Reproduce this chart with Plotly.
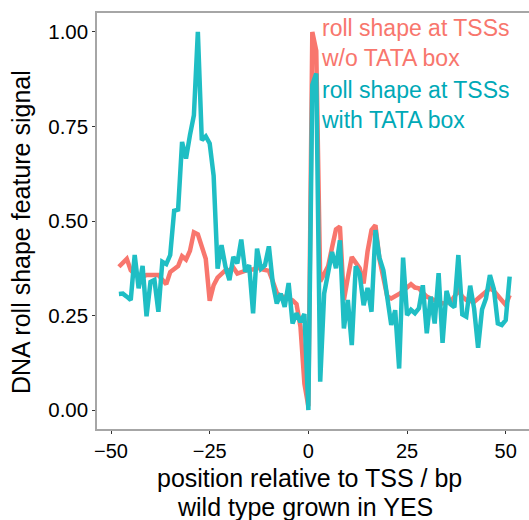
import plotly.graph_objects as go

positions = list(range(-48, 52))

roll_no_tata = [
    0.379, 0.39, 0.40, 0.37, 0.36, 0.355, 0.352, 0.357, 0.357, 0.357,
    0.357, 0.345, 0.333, 0.365, 0.375, 0.381, 0.407, 0.398, 0.421, 0.47,
    0.465, 0.43, 0.40, 0.289, 0.33, 0.35, 0.361, 0.37, 0.37, 0.377,
    0.361, 0.365, 0.37, 0.372, 0.372, 0.377, 0.373, 0.37, 0.368, 0.34,
    0.31, 0.30, 0.30, 0.295, 0.29, 0.28, 0.22, 0.07, 0.01,
    1.0, 0.95, 0.34, 0.36, 0.38, 0.43, 0.478, 0.485, 0.291, 0.35,
    0.405, 0.39, 0.375, 0.335, 0.42, 0.476, 0.489, 0.40, 0.345, 0.30,
    0.295, 0.30, 0.307, 0.315, 0.325, 0.333, 0.324, 0.322, 0.31, 0.30,
    0.295, 0.29, 0.285, 0.282, 0.284, 0.286, 0.30, 0.317, 0.30, 0.291,
    0.288, 0.286, 0.295, 0.305, 0.313, 0.322, 0.315, 0.304, 0.29, 0.278,
    0.304,
]

roll_tata = [
    0.307, 0.308, 0.30, 0.291, 0.41, 0.322, 0.381, 0.248, 0.339, 0.344,
    0.26, 0.392, 0.386, 0.41, 0.527, 0.53, 0.709, 0.665, 0.727, 0.78,
    1.0, 0.714, 0.724, 0.705, 0.62, 0.374, 0.436, 0.379, 0.344, 0.405,
    0.388, 0.451, 0.366, 0.383, 0.256, 0.427, 0.374, 0.383, 0.433, 0.335,
    0.282, 0.308, 0.273, 0.336, 0.229, 0.256, 0.233, 0.254, 0.0,
    0.86, 0.89, 0.075, 0.308, 0.36, 0.418, 0.375, 0.449, 0.216, 0.291,
    0.172, 0.38, 0.36, 0.277, 0.323, 0.26, 0.476, 0.403, 0.37, 0.30,
    0.225, 0.264, 0.11, 0.403, 0.251, 0.265, 0.256, 0.269, 0.33, 0.203,
    0.30, 0.229, 0.362, 0.178, 0.315, 0.28, 0.272, 0.41, 0.253, 0.247,
    0.329, 0.268, 0.165, 0.266, 0.295, 0.357, 0.32, 0.229, 0.225, 0.238,
    0.353,
]

n = min(len(positions), len(roll_no_tata), len(roll_tata))
positions = positions[:n]
roll_no_tata = roll_no_tata[:n]
roll_tata = roll_tata[:n]

x_ticks = [-50, -25, 0, 25, 50]
x_tick_labels = ["\u221250", "\u221225", "0", "25", "50"]
y_ticks = [0, 0.25, 0.5, 0.75, 1.0]
y_tick_labels = ["0.00", "0.25", "0.50", "0.75", "1.00"]

SALMON = "#F8766D"
TEAL = "#1FBEC4"
TEAL_TEXT = "#00A9B7"
FONT = "Liberation Sans, Arial, sans-serif"

fig = go.Figure()
fig.add_trace(go.Scatter(x=positions, y=roll_no_tata, mode="lines",
                         line=dict(color=SALMON, width=4.5), showlegend=False))
fig.add_trace(go.Scatter(x=positions, y=roll_tata, mode="lines",
                         line=dict(color=TEAL, width=4.5), showlegend=False))

fig.update_layout(
    width=529, height=520,
    margin=dict(l=97, r=0, t=13, b=91),
    plot_bgcolor="white", paper_bgcolor="white",
    font=dict(family=FONT, color="black"),
    xaxis=dict(range=[-53.55, 55.9], tickvals=x_ticks, ticktext=x_tick_labels,
               showgrid=False, zeroline=False, showline=True, mirror=True,
               linecolor="#A6A6A6", linewidth=1.5, ticks="outside", ticklen=3,
               tickcolor="#333333", tickwidth=1.2,
               tickfont=dict(size=20, family=FONT, color="black")),
    yaxis=dict(range=[-0.05, 1.05], tickvals=y_ticks, ticktext=y_tick_labels,
               showgrid=False, zeroline=False, showline=True,
               linecolor="#A6A6A6", linewidth=1.5, ticks="outside", ticklen=3,
               tickcolor="#333333", tickwidth=1.2,
               tickfont=dict(size=20.5, family=FONT, color="black")),
)

labels = [
    ("roll shape at TSSs<br>w/o TATA box", 42.5, SALMON),
    ("roll shape at TSSs<br>with TATA box", 105, TEAL_TEXT),
]
for txt, ypx, col in labels:
    fig.add_annotation(text=txt, xref="paper", yref="paper",
                       x=(320 - 97) / 432, y=(429 - ypx) / 416,
                       xanchor="left", yanchor="middle", align="left",
                       showarrow=False, borderpad=0,
                       font=dict(size=23, color=col, family=FONT))

fig.add_annotation(text="position relative to TSS / bp", xref="paper", yref="paper",
                   x=(309 - 97) / 432, y=(429 - 478) / 416, xanchor="center",
                   yanchor="middle", showarrow=False,
                   font=dict(size=25, color="black", family=FONT))
fig.add_annotation(text="wild type grown in YES", xref="paper", yref="paper",
                   x=(305 - 97) / 432, y=(429 - 507) / 416, xanchor="center",
                   yanchor="middle", showarrow=False,
                   font=dict(size=25, color="black", family=FONT))
fig.add_annotation(text="DNA roll shape feature signal", xref="paper", yref="paper",
                   x=(21 - 97) / 432, y=(429 - 232) / 416, xanchor="center",
                   yanchor="middle", textangle=-90, showarrow=False,
                   font=dict(size=25, color="black", family=FONT))

fig.write_html("out.html", config={"displayModeBar": False},
               post_script="document.body.style.margin='0';document.body.style.padding='0';")
